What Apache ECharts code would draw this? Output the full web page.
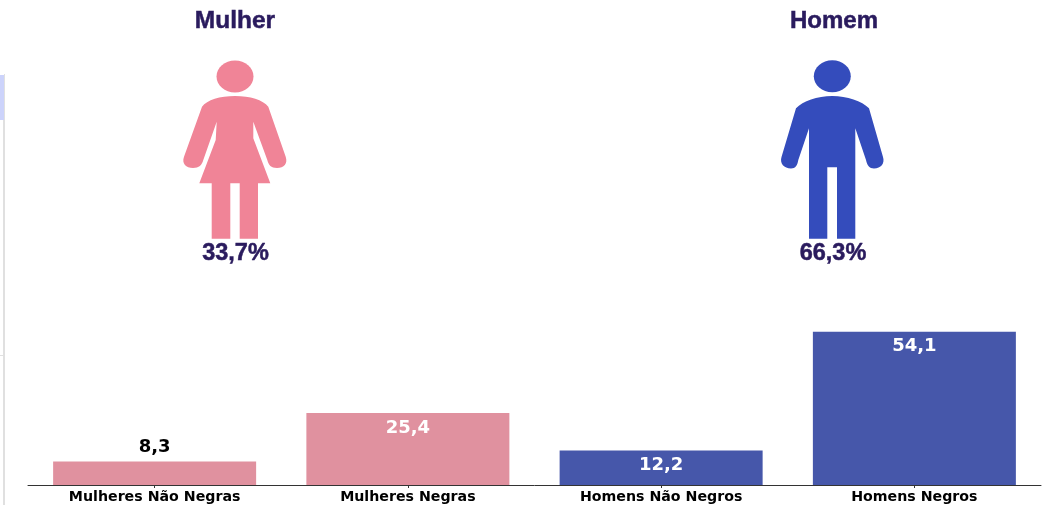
<!DOCTYPE html>
<html><head><meta charset="utf-8">
<style>html,body{margin:0;padding:0;background:#fff}#c{width:1044px;height:505px}</style>
<script src="https://cdn.jsdelivr.net/npm/echarts@6/dist/echarts.min.js"></script>
</head><body><div id="c"></div>
<script>
const categories = ['Mulheres Não Negras','Mulheres Negras','Homens Não Negros','Homens Negros'];
const values = [8.3,25.4,12.2,54.1];
const barColors = ['#E0919F','#E0919F','#4657AA','#4657AA'];
const labelInside = [false,true,true,true];
const womanPath = 'M235 96C220 96 207 100 202 106.7L184 156.7C181.5 163.5 186 168 193 168C199 168 202 165 203.3 160L216.7 121.7L215.7 140L199.3 183.3L211.7 183.3L211.7 238.7L230.3 238.7L230.3 183.3L239.7 183.3L239.7 238.7L258 238.7L258 183.3L270.3 183.3L253.3 138.3L253.3 121.7L267.3 160C268.5 165 271 168 277 168C284 168 288 163.5 285.7 156.7L268.3 106.7C263 100 250 96 235 96Z';
const manPath = 'M832.3 96C817 96 803 101 796 108.3L781.5 157C779.5 163.5 784 168.5 791 168.5C795.5 168.5 797.5 165 798.3 160L809 128.3L809 238.7L827.3 238.7L827.3 167.3L837 167.3L837 238.7L855.3 238.7L855.3 128.3L866 160C867 165 869.5 168.5 874 168.5C881 168.5 885 163.5 883 157L869 108.3C862 101 847 96 832.3 96Z';
const ink = '#2A1B5E', pink = '#F08497', blue = '#344CBC';
echarts.graphic.registerShape('womanIcon', echarts.graphic.extendPath(womanPath, {}));
echarts.graphic.registerShape('manIcon', echarts.graphic.extendPath(manPath, {}));
const txt = (x,y,t,size) => ({type:'text',x,y,style:{text:t,fill:ink,stroke:ink,lineWidth:0.5,font:`bold ${size}px "Liberation Sans", Arial, sans-serif`,textAlign:'center',textVerticalAlign:'middle'}});
const chart = echarts.init(document.getElementById('c'),null,{renderer:'canvas'});
chart.setOption({
  animation:false,
  grid:{left:28,right:3,top:315,bottom:20,containLabel:false},
  xAxis:{type:'category',data:categories,
    axisLine:{lineStyle:{color:'#333',width:1}},
    axisTick:{show:true,alignWithLabel:true,length:3,lineStyle:{color:'#333'}},
    axisLabel:{interval:0,margin:5,color:'#000',fontFamily:'DejaVu Sans',fontWeight:'bold',fontSize:14.2}},
  yAxis:{type:'value',min:0,max:60,show:false,splitLine:{show:false}},
  series:[{type:'bar',barWidth:203,
    data:values.map((v,i)=>({value:v,itemStyle:{color:barColors[i]},
      label:{position:labelInside[i]?'insideTop':'top',color:labelInside[i]?'#fff':'#000',distance:labelInside[i]?6:5}})),
    label:{show:true,fontFamily:'DejaVu Sans',fontWeight:'bold',fontSize:18,formatter:p=>String(p.value).replace('.',',')}}],
  graphic:[
    {type:'rect',shape:{x:0,y:75,width:4,height:45},style:{fill:'#CCD3FB'}},
    {type:'rect',shape:{x:3,y:120,width:2,height:385},style:{fill:'#E0E0E0'}},
    {type:'rect',shape:{x:4,y:74,width:1,height:46},style:{fill:'#E0E0E0'}},
    {type:'rect',shape:{x:0,y:355,width:5,height:1},style:{fill:'#E0E0E0'}},
    txt(235,21,'Mulher',24.5),
    txt(834,21,'Homem',24),
    txt(235.5,254,'33,7%',23.5),
    txt(833,254,'66,3%',23.5),
    {type:'ellipse',shape:{cx:235,cy:76.5,rx:18.5,ry:16},style:{fill:pink}},
    {type:'womanIcon',style:{fill:pink}},
    {type:'ellipse',shape:{cx:832.3,cy:76.3,rx:18.5,ry:16},style:{fill:blue}},
    {type:'manIcon',style:{fill:blue}}
  ]
});
</script></body></html>
